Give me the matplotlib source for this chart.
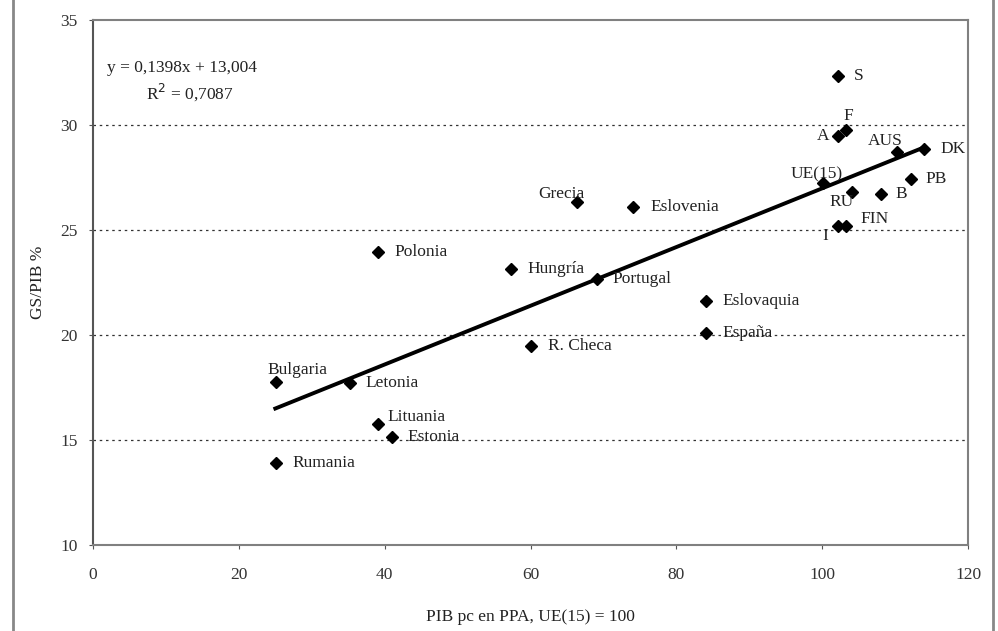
import numpy as np
import matplotlib as mpl
from matplotlib import pyplot as plt
from matplotlib.lines import Line2D

plt.rcParams['font.family'] = ['Liberation Serif', 'DejaVu Serif']

# country labels, PIB pc (UE15=100), GS/PIB %
paises = ['S', 'F', 'A', 'AUS', 'DK', 'UE(15)', 'PB', 'RU', 'B', 'FIN', 'I',
          'Eslovenia', 'Grecia', 'Polonia', 'Hungría', 'Portugal', 'Eslovaquia',
          'España', 'R. Checa', 'Bulgaria', 'Letonia', 'Lituania', 'Estonia', 'Rumania']
pib = [102.2, 103.2, 102.1, 110.2, 114.0, 100.1, 112.2, 104.1, 108.1, 103.2, 102.1,
       74.1, 66.4, 39.1, 57.3, 69.1, 84.1,
       84.1, 60.1, 25.1, 35.3, 39.1, 41.0, 25.1]
gs = [32.33, 29.76, 29.48, 28.7, 28.86, 27.24, 27.43, 26.8, 26.7, 25.19, 25.19,
      26.1, 26.33, 23.95, 23.14, 22.67, 21.6,
      20.1, 19.48, 17.76, 17.7, 15.76, 15.14, 13.9]

# label offsets in points (dx, dy, ha)
offs = {
    'S': (11, 0, 'left'), 'F': (2, 10, 'center'), 'A': (-6, 0, 'right'),
    'AUS': (-21, 8, 'left'), 'DK': (11.5, 0, 'left'), 'UE(15)': (-23, 6, 'left'),
    'PB': (10, 0, 'left'), 'RU': (-16, -7, 'left'), 'B': (10, 0, 'left'),
    'FIN': (11, 5, 'left'), 'I': (-9, -7, 'center'),
    'Grecia': (-28, 6, 'left'), 'Bulgaria': (-6, 9, 'left'),
    'Lituania': (7, 5, 'left'), 'Letonia': (11, 0, 'left'),
    'Estonia': (11, 0, 'left'), 'Portugal': (11, 0, 'left'),
}

coef = [0.1398, 13.004]
xfit = np.array([25, 114])

fig = plt.figure(figsize=(9.98, 6.31), dpi=100)
ax = fig.add_axes([0.0932, 0.1363, 0.8768, 0.832])

ax.plot(xfit, np.polyval(coef, xfit), '-', color='black', linewidth=2.8, zorder=2)
ax.plot(pib, gs, 'D', color='black', markersize=6.5, zorder=3)

for name, x, y in zip(paises, pib, gs):
    dx, dy, ha = offs.get(name, (12, 0, 'left'))
    ax.annotate(name, (x, y), xytext=(dx, dy), textcoords='offset points',
                ha=ha, va='center', fontsize=12.5, color='#222222')

ax.text(1.92, 32.71, 'y = 0,1398x + 13,004', ha='left', va='center',
        fontsize=12.5, color='#222222')
ax.text(13.3, 31.57, 'R$^2$ = 0,7087', ha='center', va='center',
        fontsize=12.5, color='#222222')

ax.set_xlim(0, 120)
ax.set_ylim(10, 35)
ax.set_xticks(np.arange(0, 121, 20))
ax.set_yticks(np.arange(10, 36, 5))
for yv in [15, 20, 25, 30]:
    ax.axhline(yv, color='#333333', linestyle=(0, (2, 3)), linewidth=0.9, zorder=1)

for s in ax.spines.values():
    s.set_color('#808080')
    s.set_linewidth(1.5)
ax.spines['left'].set_color('#555555')
ax.tick_params(axis='both', direction='out', length=3, color='#555555',
               labelsize=12.5, labelcolor='#333333')
ax.tick_params(axis='x', pad=12.5)
ax.tick_params(axis='y', pad=8)

ax.set_xlabel('PIB pc en PPA, UE(15) = 100', fontsize=12.5, color='#222222', labelpad=19)
ax.set_ylabel('GS/PIB %', fontsize=12.5, color='#222222', labelpad=10)

# outer frame lines of the original figure
fig.add_artist(Line2D([13/998, 13/998], [0, 1], color='#888888', linewidth=2))
fig.add_artist(Line2D([993/998, 993/998], [0, 1], color='#888888', linewidth=2))

plt.savefig('out.png', dpi=100)
